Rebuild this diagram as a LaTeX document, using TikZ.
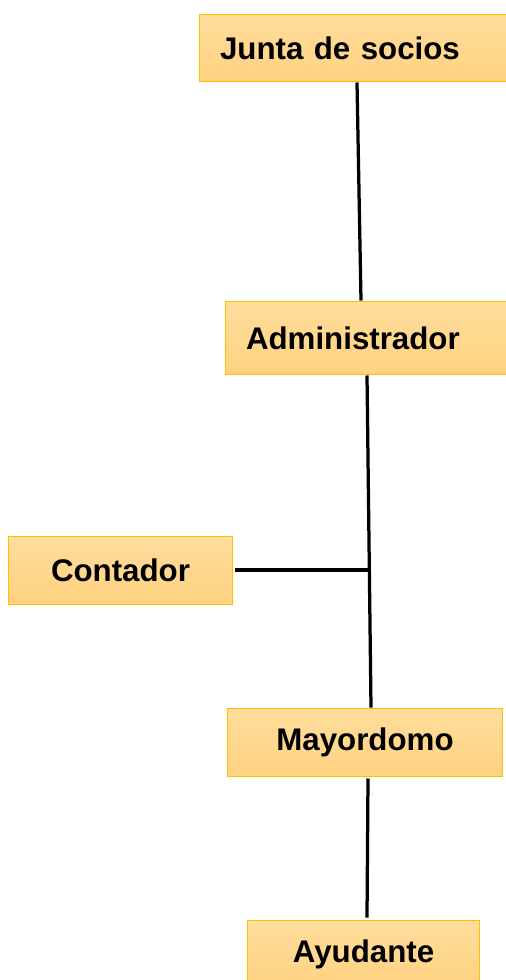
\documentclass[tikz,border=0pt]{standalone}
\usepackage{fontspec}
\setmainfont{Liberation Sans}
\definecolor{boxtop}{RGB}{255,221,157}
\definecolor{boxbot}{RGB}{255,210,128}
\definecolor{boxline}{RGB}{255,192,0}
\tikzset{
  cargo/.style={draw=boxline,line width=0.02cm,top color=boxtop,bottom color=boxbot,
    minimum height=1.36cm,inner ysep=0pt,font=\fontsize{17.8}{22}\selectfont\bfseries},
  cargoizq/.style={cargo,inner xsep=0.42cm,align=left},
  enlace/.style={line width=0.065cm}
}
\begin{document}
\begin{tikzpicture}[x=0.02cm,y=-0.02cm]
\useasboundingbox (0,0) rectangle (505,980);
\node[cargoizq,minimum width=6.18cm,text width=5.34cm] (junta) at (353.5,48) {Junta de socios};
\node[cargoizq,minimum width=5.66cm,text width=4.82cm,minimum height=1.48cm] (admin) at (366.5,338) {Administrador};
\node[cargo,minimum width=4.5cm] (contador) at (120.5,570) {Contador};
\node[cargo,minimum width=5.52cm] (mayordomo) at (365,742) {Mayordomo};
\node[cargo,minimum width=4.66cm] (ayudante) at (363.5,954) {Ayudante};
\coordinate (cruce) at (369,570);
\draw[enlace] ([xshift=0.07cm]junta.south) -- ([xshift=-0.11cm]admin.north);
\draw[enlace] ([xshift=0.01cm]admin.south) -- ([xshift=0.12cm]mayordomo.north);
\draw[enlace] ([xshift=0.04cm]contador.east) -- (cruce);
\draw[enlace] ([xshift=0.06cm,yshift=-0.04cm]mayordomo.south) -- ([xshift=0.07cm,yshift=0.04cm]ayudante.north);
\end{tikzpicture}
\end{document}
